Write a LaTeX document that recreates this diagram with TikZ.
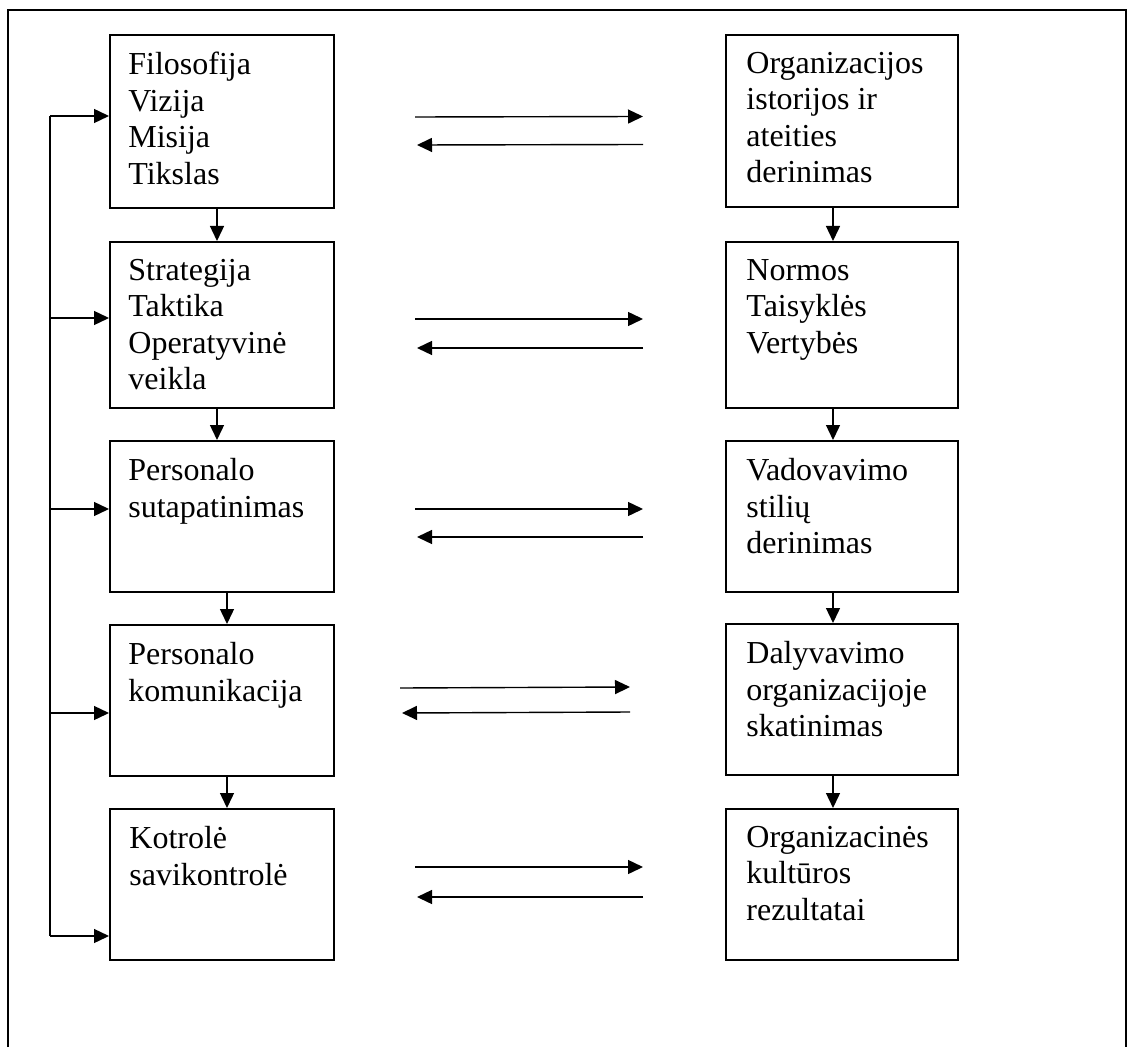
\documentclass[tikz,border=0pt]{standalone}
\usepackage{fontspec}
\setmainfont{Liberation Serif}
\usetikzlibrary{arrows.meta}
\tikzset{
  box/.style={draw, line width=1pt, anchor=north west, inner sep=0pt},
  lbox/.style={box, minimum width=112pt},
  rbox/.style={box, minimum width=116pt},
  txt/.style={anchor=north west, align=left, inner sep=0pt, font=\fontsize{16}{18.2}\selectfont},
  arr/.style={-{Triangle[length=7.5pt,width=7pt]}, line width=0.7pt}
}
\begin{document}
\begin{tikzpicture}[x=0.5pt,y=-0.5pt]
\useasboundingbox (0,0) rectangle (1127,1047);
% frame
\draw[line width=0.8pt] (8,1047) -- (8,10) -- (1126,10) -- (1126,1047);
% left column
\node[lbox, minimum height=86.5pt] (l1) at (109,34) {};
\node[lbox, minimum height=83pt] (l2) at (109,241) {};
\node[lbox, minimum height=75.5pt] (l3) at (109,440) {};
\node[lbox, minimum height=75.5pt] (l4) at (109,624) {};
\node[lbox, minimum height=75.5pt] (l5) at (109,808) {};
% right column
\node[rbox, minimum height=86pt] (r1) at (725,34) {};
\node[rbox, minimum height=83pt] (r2) at (725,241) {};
\node[rbox, minimum height=75.5pt] (r3) at (725,440) {};
\node[rbox, minimum height=75.5pt] (r4) at (725,623) {};
\node[rbox, minimum height=75.5pt] (r5) at (725,808) {};
% texts
\node[txt] (l1t) at ([xshift=9.5pt,yshift=-9pt]l1.north west) {Filosofija\\Vizija\\Misija\\Tikslas};
\node[txt] (l2t) at ([xshift=9.5pt,yshift=-9pt]l2.north west) {Strategija\\Taktika\\Operatyvinė\\veikla};
\node[txt] (l3t) at ([xshift=9.5pt,yshift=-9pt]l3.north west) {Personalo\\sutapatinimas};
\node[txt] (l4t) at ([xshift=9.5pt,yshift=-9pt]l4.north west) {Personalo\\komunikacija};
\node[txt] (l5t) at ([xshift=10pt,yshift=-9pt]l5.north west) {Kotrolė\\savikontrolė};
\node[txt] (r1t) at ([xshift=10.5pt,yshift=-9pt]r1.north west) {Organizacijos\\istorijos ir\\ateities\\derinimas};
\node[txt] (r2t) at ([xshift=10.5pt,yshift=-9pt]r2.north west) {Normos\\Taisyklės\\Vertybės};
\node[txt] (r3t) at ([xshift=10.5pt,yshift=-9pt]r3.north west) {Vadovavimo\\stilių\\derinimas};
\node[txt] (r4t) at ([xshift=10.5pt,yshift=-9pt]r4.north west) {Dalyvavimo\\organizacijoje\\skatinimas};
\node[txt] (r5t) at ([xshift=10.5pt,yshift=-9pt]r5.north west) {Organizacinės\\kultūros\\rezultatai};
% down arrows
\draw[arr] ([xshift=-2.5pt]l1.south) -- ([xshift=-2.5pt]l2.north);
\draw[arr] ([xshift=-2.5pt]l2.south) -- ([xshift=-2.5pt]l3.north);
\draw[arr] ([xshift=2.5pt]l3.south) -- ([xshift=2.5pt]l4.north);
\draw[arr] ([xshift=2.5pt]l4.south) -- ([xshift=2.5pt]l5.north);
\draw[arr] ([xshift=-4.5pt]r1.south) -- ([xshift=-4.5pt]r2.north);
\draw[arr] ([xshift=-4.5pt]r2.south) -- ([xshift=-4.5pt]r3.north);
\draw[arr] ([xshift=-4.5pt]r3.south) -- ([xshift=-4.5pt]r4.north);
\draw[arr] ([xshift=-4.5pt]r4.south) -- ([xshift=-4.5pt]r5.north);
% arrows between columns
\draw[arr] ([xshift=40pt,yshift=2.25pt]l1.east) -- ([xshift=-41pt,yshift=2.25pt]r1.west);
\draw[arr] ([xshift=-41pt,yshift=-11.75pt]r1.west) -- ([xshift=41pt,yshift=-11.75pt]l1.east);
\draw[arr] ([xshift=40pt,yshift=3pt]l2.east) -- ([xshift=-41pt,yshift=3pt]r2.west);
\draw[arr] ([xshift=-41pt,yshift=-11.5pt]r2.west) -- ([xshift=41pt,yshift=-11.5pt]l2.east);
\draw[arr] ([xshift=40pt,yshift=3.75pt]l3.east) -- ([xshift=-41pt,yshift=3.75pt]r3.west);
\draw[arr] ([xshift=-41pt,yshift=-10.25pt]r3.west) -- ([xshift=41pt,yshift=-10.25pt]l3.east);
\draw[arr] ([xshift=32.5pt,yshift=6.25pt]l4.east) -- ([xshift=-47.5pt,yshift=6.25pt]r4.west);
\draw[arr] ([xshift=-47.5pt,yshift=-6.25pt]r4.west) -- ([xshift=33.5pt,yshift=-6.25pt]l4.east);
\draw[arr] ([xshift=40pt,yshift=8.75pt]l5.east) -- ([xshift=-41pt,yshift=8.75pt]r5.west);
\draw[arr] ([xshift=-41pt,yshift=-6.25pt]r5.west) -- ([xshift=41pt,yshift=-6.25pt]l5.east);
% feedback rail
\coordinate (f1) at (50,116);
\coordinate (f2) at (50,318);
\coordinate (f3) at (50,509);
\coordinate (f4) at (50,713);
\coordinate (f5) at (50,936);
\draw[line width=0.7pt] (f1) -- (f5);
\draw[arr] (f1) -- (f1 -| l1.west);
\draw[arr] (f2) -- (f2 -| l2.west);
\draw[arr] (f3) -- (f3 -| l3.west);
\draw[arr] (f4) -- (f4 -| l4.west);
\draw[arr] (f5) -- (f5 -| l5.west);
\end{tikzpicture}
\end{document}
